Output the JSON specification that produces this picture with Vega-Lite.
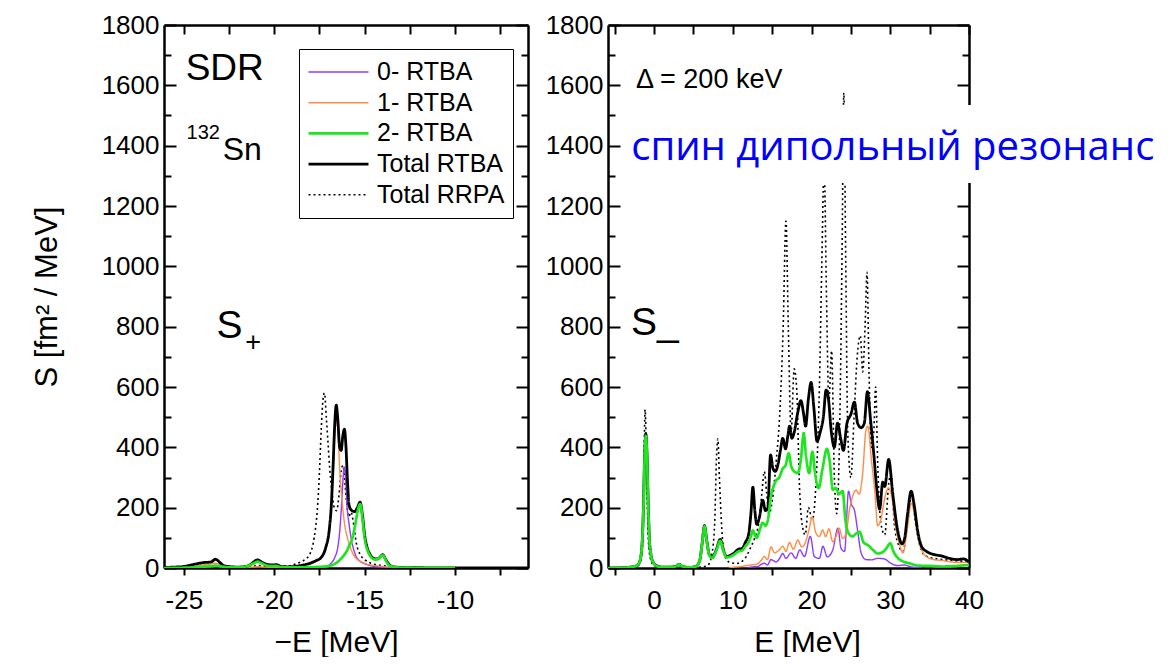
{
  "$schema": "https://vega.github.io/schema/vega-lite/v6.json",
  "autosize": {"type": "pad"},
  "padding": {"left": 31, "top": 12, "right": 0, "bottom": 0},
  "background": "white",
  "config": {
    "view": {"stroke": null},
    "axis": {
      "labelFont": "Liberation Sans", "titleFont": "Liberation Sans",
      "labelColor": "black", "titleColor": "black",
      "domainColor": "black", "tickColor": "black",
      "domainWidth": 2.5, "tickWidth": 2, "grid": false,
      "labelFontSize": 26, "titleFontSize": 30, "titleFontWeight": "normal",
      "labelOverlap": false, "labelFlush": false
    },
    "text": {"font": "Liberation Sans", "color": "black", "align": "left", "baseline": "alphabetic"}
  },
  "resolve": {"scale": {"color": "independent", "strokeWidth": "independent", "strokeDash": "independent"}},
  "datasets": {
    "minus": [
      {"s":"Total RRPA","e":-26.1,"v":1},{"s":"Total RRPA","e":-25,"v":2},{"s":"Total RRPA","e":-24,"v":5},{"s":"Total RRPA","e":-23.3,"v":8},{"s":"Total RRPA","e":-22.5,"v":4},{"s":"Total RRPA","e":-21.5,"v":3},{"s":"Total RRPA","e":-20.9,"v":8},{"s":"Total RRPA","e":-20.3,"v":5},{"s":"Total RRPA","e":-19.5,"v":5},{"s":"Total RRPA","e":-19.0,"v":10},{"s":"Total RRPA","e":-18.6,"v":18},{"s":"Total RRPA","e":-18.3,"v":28},{"s":"Total RRPA","e":-18.0,"v":50},{"s":"Total RRPA","e":-17.85,"v":80},{"s":"Total RRPA","e":-17.72,"v":130},{"s":"Total RRPA","e":-17.62,"v":190},{"s":"Total RRPA","e":-17.5,"v":315},{"s":"Total RRPA","e":-17.4,"v":460},{"s":"Total RRPA","e":-17.3,"v":560},{"s":"Total RRPA","e":-17.22,"v":580},{"s":"Total RRPA","e":-17.12,"v":500},{"s":"Total RRPA","e":-17.03,"v":420},{"s":"Total RRPA","e":-16.93,"v":330},{"s":"Total RRPA","e":-16.82,"v":260},{"s":"Total RRPA","e":-16.68,"v":200},{"s":"Total RRPA","e":-16.55,"v":190},{"s":"Total RRPA","e":-16.42,"v":240},{"s":"Total RRPA","e":-16.3,"v":320},{"s":"Total RRPA","e":-16.2,"v":340},{"s":"Total RRPA","e":-16.1,"v":290},{"s":"Total RRPA","e":-16.0,"v":220},{"s":"Total RRPA","e":-15.88,"v":170},{"s":"Total RRPA","e":-15.75,"v":185},{"s":"Total RRPA","e":-15.62,"v":150},{"s":"Total RRPA","e":-15.45,"v":80},{"s":"Total RRPA","e":-15.25,"v":45},{"s":"Total RRPA","e":-15.0,"v":28},{"s":"Total RRPA","e":-14.6,"v":15},{"s":"Total RRPA","e":-14.0,"v":8},{"s":"Total RRPA","e":-13.3,"v":3},{"s":"Total RRPA","e":-12,"v":1},{"s":"Total RRPA","e":-10,"v":0},{"s":"Total RRPA","e":-6,"v":0},

      {"s":"0- RTBA","e":-19,"v":1},{"s":"0- RTBA","e":-18,"v":2},{"s":"0- RTBA","e":-17.2,"v":4},{"s":"0- RTBA","e":-16.87,"v":15},{"s":"0- RTBA","e":-16.65,"v":35},{"s":"0- RTBA","e":-16.48,"v":70},{"s":"0- RTBA","e":-16.38,"v":120},{"s":"0- RTBA","e":-16.3,"v":185},{"s":"0- RTBA","e":-16.22,"v":270},{"s":"0- RTBA","e":-16.13,"v":335},{"s":"0- RTBA","e":-16.05,"v":295},{"s":"0- RTBA","e":-15.98,"v":210},{"s":"0- RTBA","e":-15.87,"v":150},{"s":"0- RTBA","e":-15.76,"v":104},{"s":"0- RTBA","e":-15.6,"v":60},{"s":"0- RTBA","e":-15.48,"v":40},{"s":"0- RTBA","e":-15.25,"v":22},{"s":"0- RTBA","e":-15.02,"v":15},{"s":"0- RTBA","e":-14.7,"v":8},{"s":"0- RTBA","e":-14.3,"v":4},{"s":"0- RTBA","e":-13.5,"v":1},{"s":"0- RTBA","e":-12,"v":0},

      {"s":"1- RTBA","e":-26.1,"v":1},{"s":"1- RTBA","e":-25,"v":2},{"s":"1- RTBA","e":-24.5,"v":5},{"s":"1- RTBA","e":-24,"v":10},{"s":"1- RTBA","e":-23.6,"v":12},{"s":"1- RTBA","e":-23.25,"v":16},{"s":"1- RTBA","e":-22.95,"v":10},{"s":"1- RTBA","e":-22.7,"v":4},{"s":"1- RTBA","e":-22,"v":2},{"s":"1- RTBA","e":-21.2,"v":3},{"s":"1- RTBA","e":-20.9,"v":4},{"s":"1- RTBA","e":-20.5,"v":3},{"s":"1- RTBA","e":-19.5,"v":2},{"s":"1- RTBA","e":-18.8,"v":5},{"s":"1- RTBA","e":-18.4,"v":9},{"s":"1- RTBA","e":-18.0,"v":14},{"s":"1- RTBA","e":-17.7,"v":22},{"s":"1- RTBA","e":-17.4,"v":35},{"s":"1- RTBA","e":-17.15,"v":62},{"s":"1- RTBA","e":-16.95,"v":120},{"s":"1- RTBA","e":-16.85,"v":190},{"s":"1- RTBA","e":-16.75,"v":300},{"s":"1- RTBA","e":-16.65,"v":440},{"s":"1- RTBA","e":-16.56,"v":495},{"s":"1- RTBA","e":-16.47,"v":445},{"s":"1- RTBA","e":-16.38,"v":330},{"s":"1- RTBA","e":-16.25,"v":225},{"s":"1- RTBA","e":-16.12,"v":150},{"s":"1- RTBA","e":-15.95,"v":100},{"s":"1- RTBA","e":-15.8,"v":70},{"s":"1- RTBA","e":-15.6,"v":42},{"s":"1- RTBA","e":-15.4,"v":28},{"s":"1- RTBA","e":-15.1,"v":18},{"s":"1- RTBA","e":-14.8,"v":12},{"s":"1- RTBA","e":-14.3,"v":7},{"s":"1- RTBA","e":-13.5,"v":3},{"s":"1- RTBA","e":-12.5,"v":1},{"s":"1- RTBA","e":-10,"v":0},

      {"s":"Total RTBA","e":-26.1,"v":2},{"s":"Total RTBA","e":-25.5,"v":3},{"s":"Total RTBA","e":-25,"v":5},{"s":"Total RTBA","e":-24.6,"v":10},{"s":"Total RTBA","e":-24.2,"v":15},{"s":"Total RTBA","e":-23.9,"v":18},{"s":"Total RTBA","e":-23.5,"v":20},{"s":"Total RTBA","e":-23.25,"v":29},{"s":"Total RTBA","e":-23.0,"v":18},{"s":"Total RTBA","e":-22.8,"v":8},{"s":"Total RTBA","e":-22.4,"v":4},{"s":"Total RTBA","e":-22,"v":3},{"s":"Total RTBA","e":-21.6,"v":5},{"s":"Total RTBA","e":-21.3,"v":12},{"s":"Total RTBA","e":-21.1,"v":22},{"s":"Total RTBA","e":-20.92,"v":27},{"s":"Total RTBA","e":-20.7,"v":20},{"s":"Total RTBA","e":-20.4,"v":12},{"s":"Total RTBA","e":-20.1,"v":10},{"s":"Total RTBA","e":-19.9,"v":11},{"s":"Total RTBA","e":-19.6,"v":5},{"s":"Total RTBA","e":-19.2,"v":4},{"s":"Total RTBA","e":-18.8,"v":6},{"s":"Total RTBA","e":-18.4,"v":10},{"s":"Total RTBA","e":-18.0,"v":16},{"s":"Total RTBA","e":-17.7,"v":24},{"s":"Total RTBA","e":-17.4,"v":35},{"s":"Total RTBA","e":-17.15,"v":68},{"s":"Total RTBA","e":-16.95,"v":130},{"s":"Total RTBA","e":-16.85,"v":200},{"s":"Total RTBA","e":-16.75,"v":330},{"s":"Total RTBA","e":-16.65,"v":480},{"s":"Total RTBA","e":-16.57,"v":540},{"s":"Total RTBA","e":-16.48,"v":490},{"s":"Total RTBA","e":-16.38,"v":400},{"s":"Total RTBA","e":-16.3,"v":390},{"s":"Total RTBA","e":-16.2,"v":440},{"s":"Total RTBA","e":-16.12,"v":460},{"s":"Total RTBA","e":-16.03,"v":400},{"s":"Total RTBA","e":-15.95,"v":290},{"s":"Total RTBA","e":-15.85,"v":205},{"s":"Total RTBA","e":-15.7,"v":190},{"s":"Total RTBA","e":-15.55,"v":187},{"s":"Total RTBA","e":-15.4,"v":200},{"s":"Total RTBA","e":-15.25,"v":218},{"s":"Total RTBA","e":-15.12,"v":175},{"s":"Total RTBA","e":-15.0,"v":110},{"s":"Total RTBA","e":-14.88,"v":72},{"s":"Total RTBA","e":-14.7,"v":45},{"s":"Total RTBA","e":-14.5,"v":32},{"s":"Total RTBA","e":-14.3,"v":30},{"s":"Total RTBA","e":-14.15,"v":36},{"s":"Total RTBA","e":-14.0,"v":44},{"s":"Total RTBA","e":-13.85,"v":30},{"s":"Total RTBA","e":-13.65,"v":12},{"s":"Total RTBA","e":-13.4,"v":4},{"s":"Total RTBA","e":-13.0,"v":2},{"s":"Total RTBA","e":-12,"v":1},{"s":"Total RTBA","e":-10,"v":0},{"s":"Total RTBA","e":-6,"v":0},

      {"s":"2- RTBA","e":-26.1,"v":0},{"s":"2- RTBA","e":-25,"v":1},{"s":"2- RTBA","e":-24.5,"v":2},{"s":"2- RTBA","e":-24,"v":4},{"s":"2- RTBA","e":-23.5,"v":6},{"s":"2- RTBA","e":-23.2,"v":8},{"s":"2- RTBA","e":-22.9,"v":5},{"s":"2- RTBA","e":-22.4,"v":2},{"s":"2- RTBA","e":-21.8,"v":3},{"s":"2- RTBA","e":-21.4,"v":8},{"s":"2- RTBA","e":-21.15,"v":15},{"s":"2- RTBA","e":-20.92,"v":21},{"s":"2- RTBA","e":-20.7,"v":16},{"s":"2- RTBA","e":-20.4,"v":8},{"s":"2- RTBA","e":-20.1,"v":6},{"s":"2- RTBA","e":-19.9,"v":7},{"s":"2- RTBA","e":-19.6,"v":3},{"s":"2- RTBA","e":-19,"v":2},{"s":"2- RTBA","e":-18,"v":3},{"s":"2- RTBA","e":-17.2,"v":5},{"s":"2- RTBA","e":-16.7,"v":12},{"s":"2- RTBA","e":-16.4,"v":25},{"s":"2- RTBA","e":-16.2,"v":38},{"s":"2- RTBA","e":-16.0,"v":55},{"s":"2- RTBA","e":-15.85,"v":75},{"s":"2- RTBA","e":-15.67,"v":100},{"s":"2- RTBA","e":-15.5,"v":150},{"s":"2- RTBA","e":-15.38,"v":190},{"s":"2- RTBA","e":-15.24,"v":212},{"s":"2- RTBA","e":-15.12,"v":165},{"s":"2- RTBA","e":-15.02,"v":108},{"s":"2- RTBA","e":-14.9,"v":70},{"s":"2- RTBA","e":-14.78,"v":50},{"s":"2- RTBA","e":-14.6,"v":33},{"s":"2- RTBA","e":-14.42,"v":28},{"s":"2- RTBA","e":-14.22,"v":32},{"s":"2- RTBA","e":-14.0,"v":42},{"s":"2- RTBA","e":-13.85,"v":28},{"s":"2- RTBA","e":-13.7,"v":12},{"s":"2- RTBA","e":-13.5,"v":5},{"s":"2- RTBA","e":-13.2,"v":2},{"s":"2- RTBA","e":-12.5,"v":1},{"s":"2- RTBA","e":-10,"v":0}
    ],
    "plus": [
      {"s":"Total RRPA","e":-5.85,"v":0},{"s":"Total RRPA","e":-3,"v":2},{"s":"Total RRPA","e":-2,"v":8},{"s":"Total RRPA","e":-1.6,"v":40},{"s":"Total RRPA","e":-1.4,"v":150},{"s":"Total RRPA","e":-1.25,"v":400},{"s":"Total RRPA","e":-1.14,"v":525},{"s":"Total RRPA","e":-1.0,"v":420},{"s":"Total RRPA","e":-0.85,"v":200},{"s":"Total RRPA","e":-0.7,"v":80},{"s":"Total RRPA","e":-0.4,"v":25},{"s":"Total RRPA","e":0,"v":8},{"s":"Total RRPA","e":1,"v":2},{"s":"Total RRPA","e":2.6,"v":4},{"s":"Total RRPA","e":3.2,"v":8},{"s":"Total RRPA","e":3.8,"v":3},{"s":"Total RRPA","e":5,"v":2},{"s":"Total RRPA","e":6.2,"v":4},{"s":"Total RRPA","e":6.8,"v":8},{"s":"Total RRPA","e":7.3,"v":40},{"s":"Total RRPA","e":7.7,"v":150},{"s":"Total RRPA","e":7.95,"v":380},{"s":"Total RRPA","e":8.1,"v":428},{"s":"Total RRPA","e":8.3,"v":300},{"s":"Total RRPA","e":8.6,"v":130},{"s":"Total RRPA","e":9.0,"v":40},{"s":"Total RRPA","e":9.5,"v":20},{"s":"Total RRPA","e":10.5,"v":15},{"s":"Total RRPA","e":11.5,"v":30},{"s":"Total RRPA","e":12.3,"v":70},{"s":"Total RRPA","e":12.8,"v":100},{"s":"Total RRPA","e":13.3,"v":150},{"s":"Total RRPA","e":13.7,"v":250},{"s":"Total RRPA","e":14.0,"v":320},{"s":"Total RRPA","e":14.3,"v":250},{"s":"Total RRPA","e":14.6,"v":180},{"s":"Total RRPA","e":15.0,"v":220},{"s":"Total RRPA","e":15.5,"v":350},{"s":"Total RRPA","e":16.0,"v":530},{"s":"Total RRPA","e":16.4,"v":800},{"s":"Total RRPA","e":16.75,"v":1150},{"s":"Total RRPA","e":17.05,"v":800},{"s":"Total RRPA","e":17.4,"v":450},{"s":"Total RRPA","e":17.8,"v":660},{"s":"Total RRPA","e":18.1,"v":600},{"s":"Total RRPA","e":18.5,"v":250},{"s":"Total RRPA","e":18.9,"v":130},{"s":"Total RRPA","e":19.2,"v":110},{"s":"Total RRPA","e":19.6,"v":200},{"s":"Total RRPA","e":20.1,"v":160},{"s":"Total RRPA","e":20.5,"v":250},{"s":"Total RRPA","e":21.0,"v":600},{"s":"Total RRPA","e":21.3,"v":1000},{"s":"Total RRPA","e":21.6,"v":1330},{"s":"Total RRPA","e":21.9,"v":900},{"s":"Total RRPA","e":22.2,"v":550},{"s":"Total RRPA","e":22.55,"v":720},{"s":"Total RRPA","e":22.9,"v":300},{"s":"Total RRPA","e":23.2,"v":180},{"s":"Total RRPA","e":23.6,"v":500},{"s":"Total RRPA","e":23.9,"v":1100},{"s":"Total RRPA","e":24.1,"v":1575},{"s":"Total RRPA","e":24.35,"v":1000},{"s":"Total RRPA","e":24.6,"v":450},{"s":"Total RRPA","e":25.0,"v":300},{"s":"Total RRPA","e":25.4,"v":500},{"s":"Total RRPA","e":25.8,"v":700},{"s":"Total RRPA","e":26.2,"v":770},{"s":"Total RRPA","e":26.5,"v":650},{"s":"Total RRPA","e":26.8,"v":800},{"s":"Total RRPA","e":27.05,"v":980},{"s":"Total RRPA","e":27.3,"v":650},{"s":"Total RRPA","e":27.6,"v":400},{"s":"Total RRPA","e":27.9,"v":450},{"s":"Total RRPA","e":28.15,"v":600},{"s":"Total RRPA","e":28.4,"v":350},{"s":"Total RRPA","e":28.8,"v":150},{"s":"Total RRPA","e":29.3,"v":110},{"s":"Total RRPA","e":29.8,"v":280},{"s":"Total RRPA","e":30.1,"v":310},{"s":"Total RRPA","e":30.5,"v":150},{"s":"Total RRPA","e":31.0,"v":80},{"s":"Total RRPA","e":31.6,"v":55},{"s":"Total RRPA","e":32.2,"v":150},{"s":"Total RRPA","e":32.7,"v":240},{"s":"Total RRPA","e":33.2,"v":150},{"s":"Total RRPA","e":33.8,"v":70},{"s":"Total RRPA","e":34.5,"v":40},{"s":"Total RRPA","e":36,"v":30},{"s":"Total RRPA","e":38,"v":25},{"s":"Total RRPA","e":40,"v":20},

      {"s":"0- RTBA","e":12,"v":2},{"s":"0- RTBA","e":12.6,"v":4},{"s":"0- RTBA","e":13.2,"v":5},{"s":"0- RTBA","e":13.6,"v":12},{"s":"0- RTBA","e":14.0,"v":16},{"s":"0- RTBA","e":14.4,"v":10},{"s":"0- RTBA","e":14.85,"v":28},{"s":"0- RTBA","e":15.5,"v":20},{"s":"0- RTBA","e":15.9,"v":30},{"s":"0- RTBA","e":16.35,"v":48},{"s":"0- RTBA","e":16.75,"v":32},{"s":"0- RTBA","e":17.4,"v":50},{"s":"0- RTBA","e":18.0,"v":32},{"s":"0- RTBA","e":18.5,"v":60},{"s":"0- RTBA","e":19.1,"v":38},{"s":"0- RTBA","e":19.85,"v":105},{"s":"0- RTBA","e":20.35,"v":38},{"s":"0- RTBA","e":21.0,"v":32},{"s":"0- RTBA","e":21.45,"v":72},{"s":"0- RTBA","e":22.0,"v":37},{"s":"0- RTBA","e":22.7,"v":60},{"s":"0- RTBA","e":23.35,"v":132},{"s":"0- RTBA","e":23.75,"v":65},{"s":"0- RTBA","e":24.2,"v":55},{"s":"0- RTBA","e":24.7,"v":255},{"s":"0- RTBA","e":25.05,"v":212},{"s":"0- RTBA","e":25.45,"v":192},{"s":"0- RTBA","e":25.9,"v":115},{"s":"0- RTBA","e":26.3,"v":50},{"s":"0- RTBA","e":26.9,"v":28},{"s":"0- RTBA","e":27.6,"v":27},{"s":"0- RTBA","e":28.4,"v":32},{"s":"0- RTBA","e":29.25,"v":30},{"s":"0- RTBA","e":30.1,"v":15},{"s":"0- RTBA","e":31.0,"v":8},{"s":"0- RTBA","e":31.8,"v":10},{"s":"0- RTBA","e":32.6,"v":4},{"s":"0- RTBA","e":33.5,"v":1},{"s":"0- RTBA","e":34,"v":0},

      {"s":"1- RTBA","e":9.5,"v":0},{"s":"1- RTBA","e":10,"v":2},{"s":"1- RTBA","e":11,"v":5},{"s":"1- RTBA","e":12,"v":9},{"s":"1- RTBA","e":13,"v":12},{"s":"1- RTBA","e":13.6,"v":25},{"s":"1- RTBA","e":14.0,"v":38},{"s":"1- RTBA","e":14.4,"v":28},{"s":"1- RTBA","e":14.85,"v":70},{"s":"1- RTBA","e":15.3,"v":50},{"s":"1- RTBA","e":15.9,"v":60},{"s":"1- RTBA","e":16.35,"v":72},{"s":"1- RTBA","e":16.75,"v":55},{"s":"1- RTBA","e":17.2,"v":85},{"s":"1- RTBA","e":17.7,"v":62},{"s":"1- RTBA","e":18.25,"v":93},{"s":"1- RTBA","e":18.75,"v":70},{"s":"1- RTBA","e":19.3,"v":90},{"s":"1- RTBA","e":19.7,"v":130},{"s":"1- RTBA","e":20.1,"v":170},{"s":"1- RTBA","e":20.5,"v":120},{"s":"1- RTBA","e":21.0,"v":104},{"s":"1- RTBA","e":21.4,"v":126},{"s":"1- RTBA","e":21.8,"v":104},{"s":"1- RTBA","e":22.2,"v":130},{"s":"1- RTBA","e":22.7,"v":87},{"s":"1- RTBA","e":23.1,"v":104},{"s":"1- RTBA","e":23.5,"v":132},{"s":"1- RTBA","e":23.95,"v":98},{"s":"1- RTBA","e":24.4,"v":115},{"s":"1- RTBA","e":24.8,"v":190},{"s":"1- RTBA","e":25.2,"v":236},{"s":"1- RTBA","e":25.65,"v":258},{"s":"1- RTBA","e":26.05,"v":245},{"s":"1- RTBA","e":26.5,"v":315},{"s":"1- RTBA","e":26.9,"v":455},{"s":"1- RTBA","e":27.15,"v":470},{"s":"1- RTBA","e":27.6,"v":360},{"s":"1- RTBA","e":28.05,"v":250},{"s":"1- RTBA","e":28.4,"v":140},{"s":"1- RTBA","e":28.8,"v":160},{"s":"1- RTBA","e":29.25,"v":225},{"s":"1- RTBA","e":29.75,"v":265},{"s":"1- RTBA","e":30.2,"v":236},{"s":"1- RTBA","e":30.55,"v":160},{"s":"1- RTBA","e":31.15,"v":82},{"s":"1- RTBA","e":31.6,"v":50},{"s":"1- RTBA","e":32.2,"v":137},{"s":"1- RTBA","e":32.65,"v":215},{"s":"1- RTBA","e":33.05,"v":182},{"s":"1- RTBA","e":33.7,"v":82},{"s":"1- RTBA","e":34.5,"v":40},{"s":"1- RTBA","e":35.5,"v":28},{"s":"1- RTBA","e":36.5,"v":25},{"s":"1- RTBA","e":37.7,"v":20},{"s":"1- RTBA","e":38.8,"v":18},{"s":"1- RTBA","e":40,"v":20},

      {"s":"Total RTBA","e":-5.85,"v":0},{"s":"Total RTBA","e":-4,"v":1},{"s":"Total RTBA","e":-3,"v":3},{"s":"Total RTBA","e":-2.5,"v":5},{"s":"Total RTBA","e":-2,"v":12},{"s":"Total RTBA","e":-1.7,"v":35},{"s":"Total RTBA","e":-1.5,"v":90},{"s":"Total RTBA","e":-1.35,"v":200},{"s":"Total RTBA","e":-1.2,"v":370},{"s":"Total RTBA","e":-1.05,"v":445},{"s":"Total RTBA","e":-0.9,"v":380},{"s":"Total RTBA","e":-0.75,"v":220},{"s":"Total RTBA","e":-0.6,"v":100},{"s":"Total RTBA","e":-0.4,"v":45},{"s":"Total RTBA","e":-0.1,"v":18},{"s":"Total RTBA","e":0.3,"v":8},{"s":"Total RTBA","e":1,"v":3},{"s":"Total RTBA","e":2,"v":3},{"s":"Total RTBA","e":2.8,"v":6},{"s":"Total RTBA","e":3.2,"v":12},{"s":"Total RTBA","e":3.6,"v":5},{"s":"Total RTBA","e":4.5,"v":2},{"s":"Total RTBA","e":5.3,"v":5},{"s":"Total RTBA","e":5.8,"v":25},{"s":"Total RTBA","e":6.1,"v":80},{"s":"Total RTBA","e":6.4,"v":140},{"s":"Total RTBA","e":6.7,"v":90},{"s":"Total RTBA","e":7.0,"v":45},{"s":"Total RTBA","e":7.4,"v":35},{"s":"Total RTBA","e":7.9,"v":60},{"s":"Total RTBA","e":8.4,"v":95},{"s":"Total RTBA","e":8.8,"v":60},{"s":"Total RTBA","e":9.2,"v":38},{"s":"Total RTBA","e":9.7,"v":42},{"s":"Total RTBA","e":10.2,"v":50},{"s":"Total RTBA","e":10.7,"v":62},{"s":"Total RTBA","e":11.2,"v":65},{"s":"Total RTBA","e":11.6,"v":85},{"s":"Total RTBA","e":12.0,"v":110},{"s":"Total RTBA","e":12.3,"v":180},{"s":"Total RTBA","e":12.55,"v":268},{"s":"Total RTBA","e":12.8,"v":190},{"s":"Total RTBA","e":13.05,"v":145},{"s":"Total RTBA","e":13.4,"v":170},{"s":"Total RTBA","e":13.8,"v":225},{"s":"Total RTBA","e":14.15,"v":190},{"s":"Total RTBA","e":14.45,"v":200},{"s":"Total RTBA","e":14.8,"v":375},{"s":"Total RTBA","e":15.1,"v":330},{"s":"Total RTBA","e":15.4,"v":320},{"s":"Total RTBA","e":15.75,"v":345},{"s":"Total RTBA","e":16.05,"v":390},{"s":"Total RTBA","e":16.35,"v":430},{"s":"Total RTBA","e":16.7,"v":395},{"s":"Total RTBA","e":17.0,"v":440},{"s":"Total RTBA","e":17.2,"v":470},{"s":"Total RTBA","e":17.5,"v":430},{"s":"Total RTBA","e":17.8,"v":450},{"s":"Total RTBA","e":18.25,"v":515},{"s":"Total RTBA","e":18.65,"v":555},{"s":"Total RTBA","e":19.0,"v":510},{"s":"Total RTBA","e":19.25,"v":470},{"s":"Total RTBA","e":19.6,"v":560},{"s":"Total RTBA","e":19.95,"v":615},{"s":"Total RTBA","e":20.3,"v":530},{"s":"Total RTBA","e":20.7,"v":420},{"s":"Total RTBA","e":21.1,"v":450},{"s":"Total RTBA","e":21.5,"v":500},{"s":"Total RTBA","e":21.85,"v":590},{"s":"Total RTBA","e":22.15,"v":560},{"s":"Total RTBA","e":22.5,"v":455},{"s":"Total RTBA","e":22.9,"v":400},{"s":"Total RTBA","e":23.3,"v":480},{"s":"Total RTBA","e":23.7,"v":430},{"s":"Total RTBA","e":24.05,"v":390},{"s":"Total RTBA","e":24.5,"v":480},{"s":"Total RTBA","e":25.0,"v":510},{"s":"Total RTBA","e":25.45,"v":550},{"s":"Total RTBA","e":25.85,"v":480},{"s":"Total RTBA","e":26.3,"v":465},{"s":"Total RTBA","e":26.7,"v":480},{"s":"Total RTBA","e":27.1,"v":585},{"s":"Total RTBA","e":27.5,"v":490},{"s":"Total RTBA","e":27.9,"v":380},{"s":"Total RTBA","e":28.3,"v":260},{"s":"Total RTBA","e":28.65,"v":195},{"s":"Total RTBA","e":29.05,"v":285},{"s":"Total RTBA","e":29.3,"v":270},{"s":"Total RTBA","e":29.8,"v":360},{"s":"Total RTBA","e":30.3,"v":250},{"s":"Total RTBA","e":30.9,"v":130},{"s":"Total RTBA","e":31.5,"v":80},{"s":"Total RTBA","e":31.8,"v":95},{"s":"Total RTBA","e":32.2,"v":180},{"s":"Total RTBA","e":32.65,"v":255},{"s":"Total RTBA","e":33.0,"v":215},{"s":"Total RTBA","e":33.5,"v":120},{"s":"Total RTBA","e":34.0,"v":70},{"s":"Total RTBA","e":34.6,"v":55},{"s":"Total RTBA","e":35.5,"v":45},{"s":"Total RTBA","e":36.5,"v":40},{"s":"Total RTBA","e":37.5,"v":32},{"s":"Total RTBA","e":38.5,"v":28},{"s":"Total RTBA","e":39.3,"v":30},{"s":"Total RTBA","e":40,"v":20},

      {"s":"2- RTBA","e":-5.85,"v":0},{"s":"2- RTBA","e":-4,"v":1},{"s":"2- RTBA","e":-3,"v":3},{"s":"2- RTBA","e":-2.5,"v":5},{"s":"2- RTBA","e":-2,"v":12},{"s":"2- RTBA","e":-1.7,"v":35},{"s":"2- RTBA","e":-1.5,"v":90},{"s":"2- RTBA","e":-1.35,"v":195},{"s":"2- RTBA","e":-1.2,"v":365},{"s":"2- RTBA","e":-1.05,"v":438},{"s":"2- RTBA","e":-0.9,"v":375},{"s":"2- RTBA","e":-0.75,"v":215},{"s":"2- RTBA","e":-0.6,"v":98},{"s":"2- RTBA","e":-0.4,"v":44},{"s":"2- RTBA","e":-0.1,"v":17},{"s":"2- RTBA","e":0.3,"v":7},{"s":"2- RTBA","e":1,"v":3},{"s":"2- RTBA","e":2,"v":3},{"s":"2- RTBA","e":2.8,"v":6},{"s":"2- RTBA","e":3.2,"v":12},{"s":"2- RTBA","e":3.6,"v":5},{"s":"2- RTBA","e":4.5,"v":2},{"s":"2- RTBA","e":5.3,"v":5},{"s":"2- RTBA","e":5.8,"v":25},{"s":"2- RTBA","e":6.1,"v":80},{"s":"2- RTBA","e":6.4,"v":138},{"s":"2- RTBA","e":6.7,"v":88},{"s":"2- RTBA","e":7.0,"v":43},{"s":"2- RTBA","e":7.4,"v":33},{"s":"2- RTBA","e":7.9,"v":57},{"s":"2- RTBA","e":8.4,"v":90},{"s":"2- RTBA","e":8.8,"v":57},{"s":"2- RTBA","e":9.2,"v":35},{"s":"2- RTBA","e":9.7,"v":38},{"s":"2- RTBA","e":10.2,"v":45},{"s":"2- RTBA","e":10.7,"v":55},{"s":"2- RTBA","e":11.2,"v":58},{"s":"2- RTBA","e":11.6,"v":72},{"s":"2- RTBA","e":12.0,"v":85},{"s":"2- RTBA","e":12.3,"v":105},{"s":"2- RTBA","e":12.55,"v":125},{"s":"2- RTBA","e":12.8,"v":110},{"s":"2- RTBA","e":13.05,"v":100},{"s":"2- RTBA","e":13.4,"v":125},{"s":"2- RTBA","e":13.8,"v":150},{"s":"2- RTBA","e":14.15,"v":140},{"s":"2- RTBA","e":14.5,"v":165},{"s":"2- RTBA","e":14.85,"v":240},{"s":"2- RTBA","e":15.1,"v":265},{"s":"2- RTBA","e":15.5,"v":290},{"s":"2- RTBA","e":15.9,"v":300},{"s":"2- RTBA","e":16.35,"v":330},{"s":"2- RTBA","e":16.7,"v":340},{"s":"2- RTBA","e":17.1,"v":380},{"s":"2- RTBA","e":17.4,"v":340},{"s":"2- RTBA","e":17.8,"v":320},{"s":"2- RTBA","e":18.25,"v":315},{"s":"2- RTBA","e":18.65,"v":360},{"s":"2- RTBA","e":19.0,"v":447},{"s":"2- RTBA","e":19.3,"v":370},{"s":"2- RTBA","e":19.7,"v":315},{"s":"2- RTBA","e":20.1,"v":385},{"s":"2- RTBA","e":20.5,"v":305},{"s":"2- RTBA","e":20.9,"v":265},{"s":"2- RTBA","e":21.4,"v":330},{"s":"2- RTBA","e":21.95,"v":395},{"s":"2- RTBA","e":22.3,"v":355},{"s":"2- RTBA","e":22.7,"v":260},{"s":"2- RTBA","e":23.1,"v":265},{"s":"2- RTBA","e":23.5,"v":245},{"s":"2- RTBA","e":23.95,"v":255},{"s":"2- RTBA","e":24.3,"v":160},{"s":"2- RTBA","e":24.7,"v":115},{"s":"2- RTBA","e":25.2,"v":105},{"s":"2- RTBA","e":25.7,"v":115},{"s":"2- RTBA","e":26.1,"v":120},{"s":"2- RTBA","e":26.6,"v":85},{"s":"2- RTBA","e":27.2,"v":75},{"s":"2- RTBA","e":27.8,"v":60},{"s":"2- RTBA","e":28.4,"v":48},{"s":"2- RTBA","e":29.0,"v":52},{"s":"2- RTBA","e":29.5,"v":65},{"s":"2- RTBA","e":30.0,"v":82},{"s":"2- RTBA","e":30.4,"v":55},{"s":"2- RTBA","e":30.9,"v":35},{"s":"2- RTBA","e":31.6,"v":22},{"s":"2- RTBA","e":32.5,"v":15},{"s":"2- RTBA","e":33.5,"v":8},{"s":"2- RTBA","e":35,"v":7},{"s":"2- RTBA","e":36.5,"v":5},{"s":"2- RTBA","e":38,"v":6},{"s":"2- RTBA","e":39,"v":8},{"s":"2- RTBA","e":40,"v":10}
    ]
  },
  "hconcat": [
    {
      "width": 364,
      "height": 543,
      "resolve": {"axis": {"x": "independent", "y": "independent"}},
      "layer": [
        {
          "data": {"name": "minus"},
          "mark": {"type": "line", "interpolate": "monotone", "clip": true},
          "encoding": {
            "x": {
              "field": "e", "type": "quantitative",
              "scale": {"domain": [-26.1, -5.96], "nice": false, "zero": false},
              "axis": {
                "orient": "bottom",
                "values": [-25, -22.5, -20, -17.5, -15, -12.5, -10, -7.5],
                "labelExpr": "datum.value % 5 === 0 ? '' + datum.value : ''",
                "tickSize": 7, "labelPadding": 12,
                "title": "−E [MeV]", "titlePadding": 14, "titleX": 172
              }
            },
            "y": {
              "field": "v", "type": "quantitative",
              "scale": {"domain": [0, 1800], "nice": false},
              "axis": {
                "orient": "left",
                "values": [0, 100, 200, 300, 400, 500, 600, 700, 800, 900, 1000, 1100, 1200, 1300, 1400, 1500, 1600, 1700, 1800],
                "labelExpr": "datum.value % 200 === 0 ? '' + datum.value : ''",
                "tickSize": {"condition": {"test": "datum.value % 200 === 0", "value": -12}, "value": -7},
                "labelPadding": 17,
                "title": "S [fm² / MeV]", "titlePadding": 38, "titleFontSize": 31
              }
            },
            "color": {
              "field": "s", "type": "nominal",
              "scale": {
                "domain": ["0- RTBA", "1- RTBA", "2- RTBA", "Total RTBA", "Total RRPA"],
                "range": ["#8c3cff", "#ff8c42", "#1ee61e", "#000000", "#000000"]
              },
              "legend": {
                "orient": "none", "legendX": 135, "legendY": 24,
                "title": null, "symbolType": "stroke", "symbolSize": 3600,
                "clipHeight": 30, "rowPadding": 0.7, "padding": 8,
                "labelFont": "Liberation Sans", "labelFontSize": 25, "labelColor": "black",
                "labelOffset": 7, "strokeColor": "black", "fillColor": "white"
              }
            },
            "strokeWidth": {
              "field": "s", "type": "nominal",
              "scale": {
                "type": "ordinal",
                "domain": ["0- RTBA", "1- RTBA", "2- RTBA", "Total RTBA", "Total RRPA"],
                "range": [1.4, 1.4, 2.7, 2.8, 1.6]
              },
              "legend": {
                "orient": "none", "legendX": 135, "legendY": 24,
                "title": null, "symbolType": "stroke", "symbolSize": 3600,
                "clipHeight": 30, "rowPadding": 0.7, "padding": 8,
                "labelFont": "Liberation Sans", "labelFontSize": 25, "labelColor": "black",
                "labelOffset": 7, "strokeColor": "black", "fillColor": "white"
              }
            },
            "strokeDash": {
              "field": "s", "type": "nominal",
              "scale": {
                "domain": ["0- RTBA", "1- RTBA", "2- RTBA", "Total RTBA", "Total RRPA"],
                "range": [[1, 0], [1, 0], [1, 0], [1, 0], [2, 3]]
              },
              "legend": {
                "orient": "none", "legendX": 135, "legendY": 24,
                "title": null, "symbolType": "stroke", "symbolSize": 3600,
                "clipHeight": 30, "rowPadding": 0.7, "padding": 8,
                "labelFont": "Liberation Sans", "labelFontSize": 25, "labelColor": "black",
                "labelOffset": 7, "strokeColor": "black", "fillColor": "white"
              }
            }
          }
        },
        {
          "data": {"name": "minus"},
          "mark": {"type": "point", "opacity": 0},
          "encoding": {
            "x": {
              "field": "e", "type": "quantitative",
              "axis": {"orient": "top", "values": [-25, -22.5, -20, -17.5, -15, -12.5, -10, -7.5], "labels": false, "tickSize": -9, "title": null}
            },
            "y": {
              "field": "v", "type": "quantitative",
              "axis": {
                "orient": "right", "labels": false, "title": null,
                "values": [0, 100, 200, 300, 400, 500, 600, 700, 800, 900, 1000, 1100, 1200, 1300, 1400, 1500, 1600, 1700, 1800],
                "tickSize": {"condition": {"test": "datum.value % 200 === 0", "value": -12}, "value": -7}
              }
            }
          }
        },
        {
          "data": {"values": [{}]},
          "mark": {"type": "text", "text": "SDR", "fontSize": 37},
          "encoding": {"x": {"datum": -24.9, "type": "quantitative", "axis": null}, "y": {"datum": 1617, "type": "quantitative", "axis": null}}
        },
        {
          "data": {"values": [{}]},
          "mark": {"type": "text", "text": "132", "fontSize": 20},
          "encoding": {"x": {"datum": -24.85, "type": "quantitative", "axis": null}, "y": {"datum": 1422, "type": "quantitative", "axis": null}}
        },
        {
          "data": {"values": [{}]},
          "mark": {"type": "text", "text": "Sn", "fontSize": 32},
          "encoding": {"x": {"datum": -22.85, "type": "quantitative", "axis": null}, "y": {"datum": 1352, "type": "quantitative", "axis": null}}
        },
        {
          "data": {"values": [{}]},
          "mark": {"type": "text", "text": "S", "fontSize": 39},
          "encoding": {"x": {"datum": -23.2, "type": "quantitative", "axis": null}, "y": {"datum": 762, "type": "quantitative", "axis": null}}
        },
        {
          "data": {"values": [{}]},
          "mark": {"type": "text", "text": "+", "fontSize": 27},
          "encoding": {"x": {"datum": -21.6, "type": "quantitative", "axis": null}, "y": {"datum": 719, "type": "quantitative", "axis": null}}
        }
      ]
    },
    {
      "width": 361,
      "height": 543,
      "resolve": {"axis": {"x": "independent", "y": "independent"}},
      "layer": [
        {
          "data": {"name": "plus"},
          "mark": {"type": "line", "interpolate": "monotone", "clip": true},
          "encoding": {
            "x": {
              "field": "e", "type": "quantitative",
              "scale": {"domain": [-5.85, 40], "nice": false, "zero": false},
              "axis": {
                "orient": "bottom",
                "values": [-5, 0, 5, 10, 15, 20, 25, 30, 35, 40],
                "labelExpr": "datum.value % 10 === 0 ? '' + datum.value : ''",
                "tickSize": 7, "labelPadding": 12,
                "title": "E [MeV]", "titlePadding": 14, "titleX": 199
              }
            },
            "y": {
              "field": "v", "type": "quantitative",
              "scale": {"domain": [0, 1800], "nice": false},
              "axis": {
                "orient": "left",
                "values": [0, 100, 200, 300, 400, 500, 600, 700, 800, 900, 1000, 1100, 1200, 1300, 1400, 1500, 1600, 1700, 1800],
                "labelExpr": "datum.value % 200 === 0 ? '' + datum.value : ''",
                "tickSize": {"condition": {"test": "datum.value % 200 === 0", "value": -12}, "value": -7},
                "labelPadding": 17, "title": null
              }
            },
            "color": {
              "field": "s", "type": "nominal", "legend": null,
              "scale": {
                "domain": ["0- RTBA", "1- RTBA", "2- RTBA", "Total RTBA", "Total RRPA"],
                "range": ["#8c3cff", "#ff8c42", "#1ee61e", "#000000", "#000000"]
              }
            },
            "strokeWidth": {
              "field": "s", "type": "nominal", "legend": null,
              "scale": {
                "type": "ordinal",
                "domain": ["0- RTBA", "1- RTBA", "2- RTBA", "Total RTBA", "Total RRPA"],
                "range": [1.4, 1.4, 2.7, 2.8, 1.6]
              }
            },
            "strokeDash": {
              "field": "s", "type": "nominal", "legend": null,
              "scale": {
                "domain": ["0- RTBA", "1- RTBA", "2- RTBA", "Total RTBA", "Total RRPA"],
                "range": [[1, 0], [1, 0], [1, 0], [1, 0], [2, 3]]
              }
            }
          }
        },
        {
          "data": {"name": "plus"},
          "mark": {"type": "point", "opacity": 0},
          "encoding": {
            "x": {
              "field": "e", "type": "quantitative",
              "axis": {"orient": "top", "values": [-5, 0, 5, 10, 15, 20, 25, 30, 35, 40], "labels": false, "tickSize": -9, "title": null}
            },
            "y": {
              "field": "v", "type": "quantitative",
              "axis": {
                "orient": "right", "labels": false, "title": null,
                "values": [0, 100, 200, 300, 400, 500, 600, 700, 800, 900, 1000, 1100, 1200, 1300, 1400, 1500, 1600, 1700, 1800],
                "tickSize": {"condition": {"test": "datum.value % 200 === 0", "value": -12}, "value": -7}
              }
            }
          }
        },
        {
          "data": {"values": [{}]},
          "mark": {"type": "text", "text": "S_", "fontSize": 39},
          "encoding": {"x": {"datum": -2.92, "type": "quantitative", "axis": null}, "y": {"datum": 772, "type": "quantitative", "axis": null}}
        },
        {
          "data": {"values": [{}]},
          "mark": {"type": "text", "text": "Δ = 200 keV", "fontSize": 27},
          "encoding": {"x": {"datum": -2.29, "type": "quantitative", "axis": null}, "y": {"datum": 1591, "type": "quantitative", "axis": null}}
        },
        {
          "data": {"values": [{}]},
          "mark": {"type": "rect", "color": "white", "clip": false},
          "encoding": {
            "x": {"datum": -3.6, "type": "quantitative", "axis": null},
            "x2": {"datum": 67},
            "y": {"datum": 1276, "type": "quantitative", "axis": null},
            "y2": {"datum": 1535}
          }
        },
        {
          "data": {"values": [{}]},
          "mark": {"type": "text", "text": "спин дипольный резонанс", "font": "Open Sans", "fontSize": 40, "color": "#0000ff"},
          "encoding": {"x": {"datum": -2.9, "type": "quantitative", "axis": null}, "y": {"datum": 1352, "type": "quantitative", "axis": null}}
        }
      ]
    }
  ],
  "spacing": 80,
  "bounds": "flush"
}
